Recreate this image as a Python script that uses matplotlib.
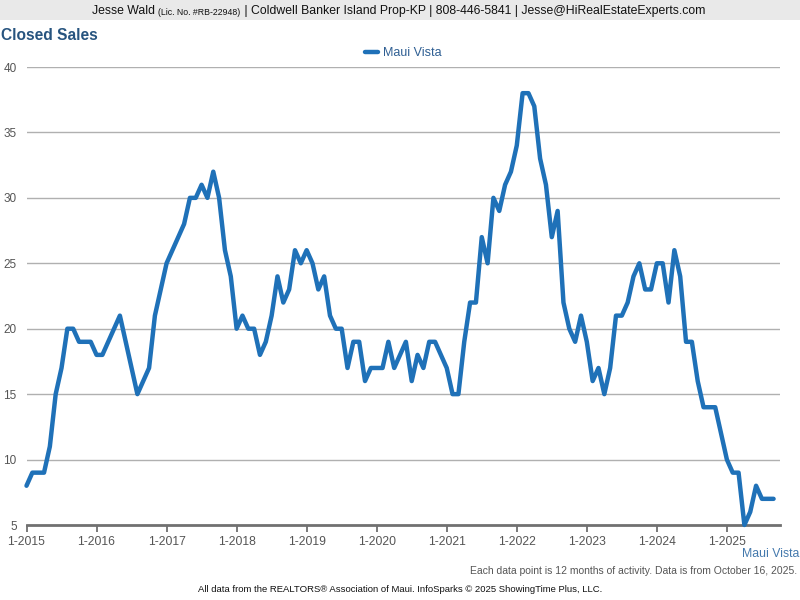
import matplotlib
matplotlib.use("Agg")
import matplotlib.pyplot as plt
import numpy as np

plt.rcParams['font.family'] = ['Liberation Sans', 'DejaVu Sans']

series_name = "Maui Vista"
start_year = 2015
values = [
    8, 9, 9, 9, 11, 15, 17, 20, 20, 19, 19, 19,      # 2015
    18, 18, 19, 20, 21, 19, 17, 15, 16, 17, 21, 23,  # 2016
    25, 26, 27, 28, 30, 30, 31, 30, 32, 30, 26, 24,  # 2017
    20, 21, 20, 20, 18, 19, 21, 24, 22, 23, 26, 25,  # 2018
    26, 25, 23, 24, 21, 20, 20, 17, 19, 19, 16, 17,  # 2019
    17, 17, 19, 17, 18, 19, 16, 18, 17, 19, 19, 18,  # 2020
    17, 15, 15, 19, 22, 22, 27, 25, 30, 29, 31, 32,  # 2021
    34, 38, 38, 37, 33, 31, 27, 29, 22, 20, 19, 21,  # 2022
    19, 16, 17, 15, 17, 21, 21, 22, 24, 25, 23, 23,  # 2023
    25, 25, 22, 26, 24, 19, 19, 16, 14, 14, 14, 12,  # 2024
    10, 9, 9, 5, 6, 8, 7, 7, 7,                      # 2025
]
tick_labels = ["1-2015", "1-2016", "1-2017", "1-2018", "1-2019", "1-2020",
               "1-2021", "1-2022", "1-2023", "1-2024", "1-2025"]
y_ticks = [5, 10, 15, 20, 25, 30, 35, 40]

W, H = 800, 600
fig = plt.figure(figsize=(8, 6), dpi=100)

# header band
fig.patches.append(plt.Rectangle((0, 1 - 20 / H), 1, 20 / H, transform=fig.transFigure,
                                 facecolor='#e9e9e9', edgecolor='none', zorder=0))
t1 = fig.text(92 / W, 1 - 11 / H, "Jesse Wald ", fontsize=8.8, color='#111111', va='center', ha='left')
t2 = fig.text(0, 0, "(Lic. No. #RB-22948)", fontsize=6.3, color='#111111')
t3 = fig.text(0, 0, " | Coldwell Banker Island Prop-KP | 808-446-5841 | Jesse@HiRealEstateExperts.com",
              fontsize=8.8, color='#111111')
fig.canvas.draw()
r = fig.canvas.get_renderer()
bb1 = t1.get_window_extent(r)
t2.set_position((bb1.x1 / W, 1 - 12.5 / H))
t2.set_va('center')
fig.canvas.draw()
bb2 = t2.get_window_extent(r)
t3.set_position((bb2.x1 / W, 1 - 11 / H))
t3.set_va('center')

fig.text(1 / W, 1 - 35 / H, "Closed Sales", fontsize=11.2, fontweight='bold', color='#27547f',
         va='center', ha='left')

x0, x1 = 26.5, 780
y0, y1 = 525, 67
ax = fig.add_axes([x0 / W, 1 - y0 / H, (x1 - x0) / W, (y0 - y1) / H])

months = np.arange(len(values))
ax.plot(months, values, color='#1f71b8', linewidth=3.2, solid_joinstyle='round',
        solid_capstyle='round', label=series_name, clip_on=False, zorder=3)

ax.set_xlim(0, 129.1)
ax.set_ylim(5, 40)
ax.set_yticks(y_ticks)
ax.set_yticklabels([str(v) for v in y_ticks])
ax.set_xticks(np.arange(len(tick_labels)) * 12)
ax.set_xticklabels(tick_labels)

for v in y_ticks[1:]:
    ax.axhline(v, color='#b0b0b0', linewidth=1.0, zorder=1)

for s in ['top', 'right', 'left']:
    ax.spines[s].set_visible(False)
ax.spines['bottom'].set_color('#707070')
ax.spines['bottom'].set_linewidth(2)
ax.tick_params(axis='y', length=0, pad=7, labelsize=8.5, labelcolor='#555555')
ax.tick_params(axis='x', length=5, width=1.3, color='#707070', pad=3, labelsize=8.7,
               labelcolor='#555555', direction='out')

leg = ax.legend(loc='lower center', bbox_to_anchor=(0.5, 1.0), frameon=False, fontsize=9,
                handlelength=1.1, handletextpad=0.4, borderaxespad=0.2)
for txt in leg.get_texts():
    txt.set_color('#2f5f93')

fig.text(799 / W, 1 - 554 / H, "Maui Vista", fontsize=8.8, color='#4479ad', ha='right', va='center')
fig.text(797 / W, 1 - 571 / H, "Each data point is 12 months of activity. Data is from October 16, 2025.",
         fontsize=7.5, color='#555555', ha='right', va='center')
fig.text(400 / W, 1 - 590 / H,
         "All data from the REALTORS\u00ae Association of Maui. InfoSparks \u00a9 2025 ShowingTime Plus, LLC.",
         fontsize=6.8, color='#111111', ha='center', va='center')

fig.savefig("out.png", dpi=100)
